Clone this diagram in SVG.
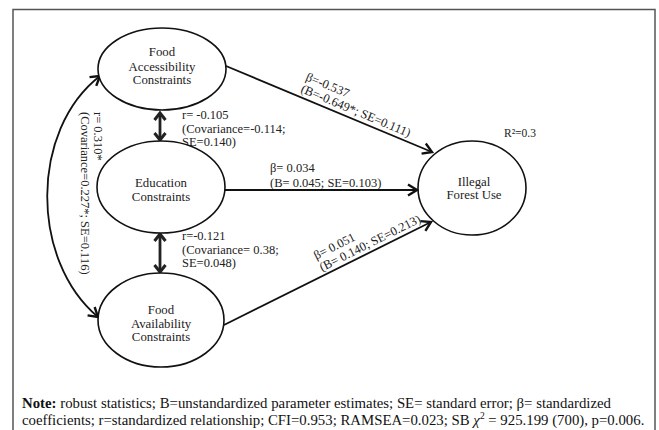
<svg xmlns="http://www.w3.org/2000/svg" width="659" height="430" viewBox="0 0 659 430">
<style>
.node ellipse{fill:#fff;stroke:#111;stroke-width:1.6}
.nt{font-family:"Liberation Serif","Times New Roman",serif;font-size:12.8px;fill:#222;text-anchor:middle}
.lb{font-family:"Liberation Serif","Times New Roman",serif;font-size:12.5px;fill:#222}
.note{font-family:"Liberation Serif","Times New Roman",serif;font-size:14.8px;fill:#111}
.conn{fill:none;stroke:#111;stroke-width:1.8}
.thick{fill:none;stroke:#222;stroke-width:2.8}
</style>
<defs>
<marker id="ah" markerUnits="userSpaceOnUse" markerWidth="16" markerHeight="16" viewBox="-12 -8 16 16" refX="0" refY="0" orient="auto-start-reverse">
<path d="M-9,-5.5 L0,0 L-9,5.5" fill="none" stroke="#111" stroke-width="2.4" stroke-linejoin="miter"/>
</marker>
<marker id="ahb" markerUnits="userSpaceOnUse" markerWidth="16" markerHeight="16" viewBox="-12 -8 16 16" refX="0" refY="0" orient="auto-start-reverse">
<path d="M-7,-5.5 L0,0 L-7,5.5" fill="none" stroke="#222" stroke-width="3" stroke-linejoin="miter"/>
</marker>
</defs>
<rect x="13" y="9.5" width="642" height="440" fill="#fff" stroke="#555" stroke-width="1.5"/>
<g id="connectors">
<line class="conn" x1="226" y1="66" x2="432" y2="152" marker-end="url(#ah)"/>
<line class="conn" x1="225" y1="190" x2="417" y2="190" marker-end="url(#ah)"/>
<line class="conn" x1="224" y1="325" x2="431" y2="222" marker-end="url(#ah)"/>
<line class="thick" x1="160" y1="113" x2="160" y2="140" marker-start="url(#ahb)" marker-end="url(#ahb)"/>
<line class="thick" x1="160" y1="234" x2="160" y2="272" marker-start="url(#ahb)" marker-end="url(#ahb)"/>
<path class="conn" d="M100,76 C30,130 30,260 98,317" marker-start="url(#ah)" marker-end="url(#ah)"/>
</g>
<g id="labels">
<text class="lb" x="182" y="119">r= -0.105</text>
<text class="lb" x="182" y="132.5">(Covariance=-0.114;</text>
<text class="lb" x="182" y="146">SE=0.140)</text>
<text class="lb" x="182" y="240">r=-0.121</text>
<text class="lb" x="182" y="253.5">(Covariance= 0.38;</text>
<text class="lb" x="182" y="267">SE=0.048)</text>
<text class="lb" x="270" y="172">β= 0.034</text>
<text class="lb" x="270" y="187">(B= 0.045; SE=0.103)</text>
<text class="lb" x="504" y="137" style="font-size:11.5px">R²=0.3</text>
<g transform="translate(300,92) rotate(22.6)">
<text class="lb" x="0" y="-13">β=-0.537</text>
<text class="lb" x="0" y="0">(B=-0.649*; SE=0.111)</text>
</g>
<g transform="translate(322,271.5) rotate(-26.5)">
<text class="lb" x="0" y="-13">β= 0.051</text>
<text class="lb" x="0" y="0">(B= 0.140; SE=0.213)</text>
</g>
<g transform="translate(94,112) rotate(90)">
<text class="lb" x="0" y="0">r= 0.310*</text>
<text class="lb" x="0" y="13.5">(Covariance=0.227*; SE=0.116)</text>
</g>
</g>
<g id="food-accessibility" class="node">
<ellipse cx="162" cy="69" rx="64" ry="41"/>
<text class="nt" x="162" y="56">Food</text>
<text class="nt" x="162" y="70.5">Accessibility</text>
<text class="nt" x="162" y="84">Constraints</text>
</g>
<g id="education" class="node">
<ellipse cx="161" cy="187" rx="64" ry="46"/>
<text class="nt" x="161" y="187">Education</text>
<text class="nt" x="161" y="200.5">Constraints</text>
</g>
<g id="food-availability" class="node">
<ellipse cx="161" cy="320" rx="63" ry="47"/>
<text class="nt" x="161" y="314">Food</text>
<text class="nt" x="161" y="327.5">Availability</text>
<text class="nt" x="161" y="341">Constraints</text>
</g>
<g id="illegal-forest-use" class="node">
<ellipse cx="472" cy="188" rx="54" ry="47"/>
<text class="nt" x="474" y="186">Illegal</text>
<text class="nt" x="474" y="199">Forest Use</text>
</g>
<g id="note">
<text class="note" x="22" y="408"><tspan font-weight="bold">Note:</tspan> robust statistics; B=unstandardized parameter estimates; SE= standard error; β= standardized</text>
<text class="note" x="22" y="425">coefficients; r=standardized relationship; CFI=0.953; RAMSEA=0.023; SB <tspan font-style="italic">χ</tspan><tspan font-size="9.5" dy="-6">2</tspan><tspan dy="6"> = 925.199 (700), p=0.006.</tspan></text>
</g>
</svg>
